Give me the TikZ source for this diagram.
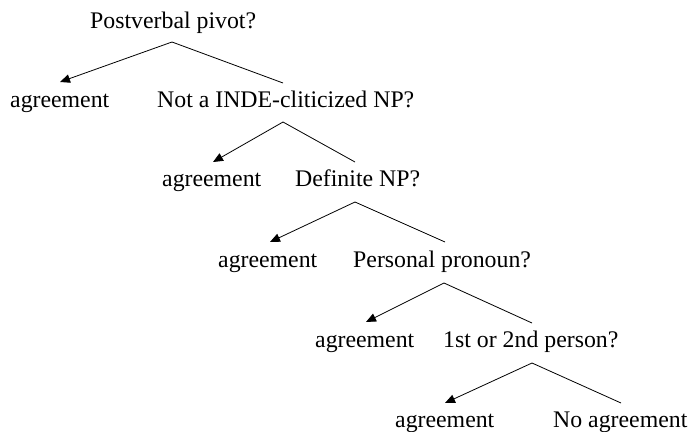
\documentclass[tikz,border=0pt]{standalone}
\usepackage{fontspec}
\setmainfont{Liberation Serif}
\usetikzlibrary{arrows.meta}
\begin{document}
\begin{tikzpicture}[x=1pt,y=-1pt,
  lbl/.style={anchor=base west,inner sep=0pt,font=\fontsize{23.8}{28}\selectfont},
  yes/.style={draw,line width=0.8pt,-{Triangle[length=10pt,width=8.5pt]}},
  no/.style={draw,line width=0.8pt}]
\useasboundingbox (0,0) rectangle (690,431);

% questions and outcomes
\node[lbl] (q0) at (90,28)  {Postverbal pivot?};
\node[lbl] (a1) at (10,107) {agreement};
\node[lbl] (q1) at (157,107) {Not a INDE-cliticized NP?};
\node[lbl] (a2) at (162,186) {agreement};
\node[lbl] (q2) at (295,186) {Definite NP?};
\node[lbl] (a3) at (218,267) {agreement};
\node[lbl] (q3) at (353,267) {Personal pronoun?};
\node[lbl] (a4) at (315,347) {agreement};
\node[lbl] (q4) at (443,347) {1st or 2nd person?};
\node[lbl] (a5) at (395,427) {agreement};
\node[lbl] (n5) at (553,427) {No agreement};

% branching points and branch ends
\coordinate (p0) at (172,42);  \coordinate (y1) at (60,82);   \coordinate (e1) at (283,83);
\coordinate (p1) at (283,122); \coordinate (y2) at (213,162); \coordinate (e2) at (355,162);
\coordinate (p2) at (355,202); \coordinate (y3) at (270,242); \coordinate (e3) at (445,242);
\coordinate (p3) at (444,283); \coordinate (y4) at (366,322); \coordinate (e4) at (532,323);
\coordinate (p4) at (532,363); \coordinate (y5) at (445,403); \coordinate (e5) at (621,403);

\foreach \i in {0,...,4}{
  \pgfmathtruncatemacro{\j}{\i+1}
  \draw[yes] (p\i) -- (y\j);
  \draw[no]  (p\i) -- (e\j);
}
\end{tikzpicture}
\end{document}
